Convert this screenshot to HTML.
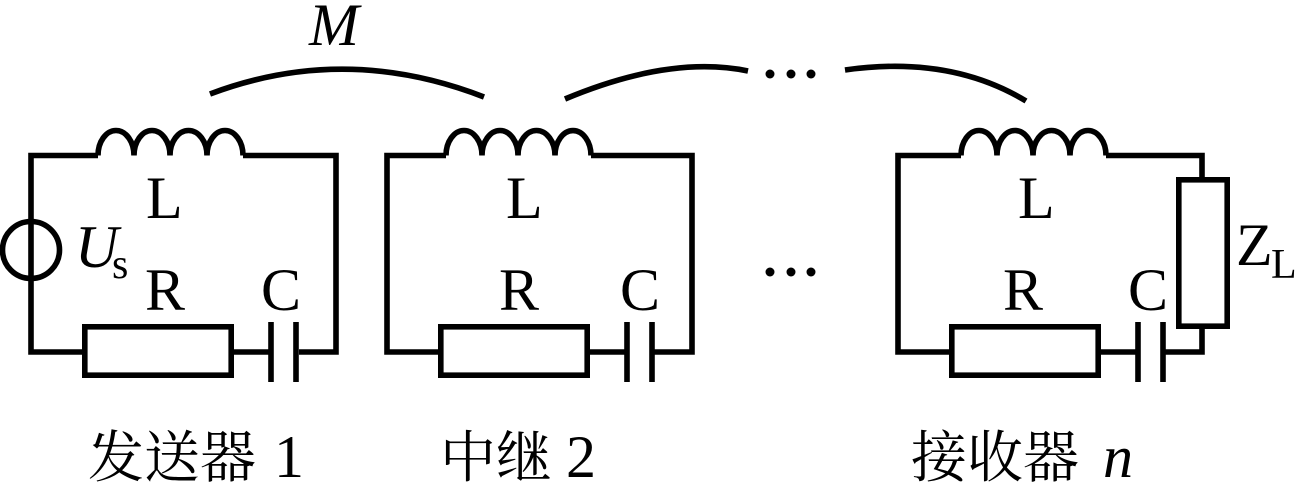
<!DOCTYPE html>
<html><head><meta charset="utf-8">
<style>
html,body{margin:0;padding:0;background:#fff;width:1311px;height:493px;overflow:hidden}
svg{display:block}
text{font-family:"Liberation Serif","Noto Serif CJK SC",serif;font-size:60px;fill:#000}
.i{font-style:italic}
.s{font-size:42px}
.z{font-size:56px}
.w{fill:none;stroke:#000;stroke-width:5.6}
</style></head><body>
<svg width="1311" height="493" viewBox="0 0 1311 493" xmlns="http://www.w3.org/2000/svg">
<g class="w">
<!-- arcs -->
<path d="M210 94Q345 43 484 97"/>
<path d="M565 99Q670 55 748 71"/>
<path d="M845 70Q950 55 1026 101"/>
<!-- circuit 1 -->
<path d="M98 155.500H31V352H85"/>
<path d="M243 155.500H336V352H299"/>
<path d="M98 155.500A18 25 0 0 1 134 155.500A18 25 0 0 1 170 155.500A18.500 25 0 0 1 207 155.500A18 25 0 0 1 243 155.500"/>
<circle cx="31" cy="250" r="28.500"/>
<rect x="84.800" y="326.800" width="146.400" height="48.400"/>
<path d="M231 352H271M271 322V382M296 322V382"/>
<!-- circuit 2 -->
<path d="M446 155.500H387V352H441"/>
<path d="M591 155.500H692V352H652"/>
<path d="M446 155.500A18 25 0 0 1 482 155.500A18 25 0 0 1 518 155.500A18.500 25 0 0 1 555 155.500A18 25 0 0 1 591 155.500"/>
<rect x="440.800" y="326.800" width="146.400" height="48.400"/>
<path d="M587 352H627M627 322V382M652 322V382"/>
<!-- circuit 3 -->
<path d="M961 155.500H898V352H952"/>
<path d="M1106 155.500H1202V179"/>
<path d="M961 155.500A18 25 0 0 1 997 155.500A18 25 0 0 1 1033 155.500A18.500 25 0 0 1 1070 155.500A18 25 0 0 1 1106 155.500"/>
<rect x="951.800" y="326.800" width="146.400" height="48.400"/>
<path d="M1098 352H1138M1138 322V382M1163 322V382M1163 352H1202V326"/>
<rect x="1178.800" y="179.800" width="48.400" height="146.400"/>
</g>
<!-- dots -->
<g fill="#000">
<circle cx="770" cy="74" r="4.500"/><circle cx="791" cy="74" r="4.500"/><circle cx="811" cy="74" r="4.500"/>
<circle cx="770" cy="272" r="4.500"/><circle cx="791" cy="272" r="4.500"/><circle cx="811" cy="272" r="4.500"/>
</g>
<!-- labels -->
<text class="i" x="309" y="45">M</text>
<text x="146" y="218">L</text><text x="506" y="218">L</text><text x="1018" y="218">L</text>
<text x="145" y="310">R</text><text x="499" y="310">R</text><text x="1003" y="310">R</text>
<text x="261" y="310">C</text><text x="620" y="310">C</text><text x="1128" y="310">C</text>
<text class="i" x="75" y="267">U</text><text class="s" x="112" y="278">s</text>
<text x="1236" y="265">Z</text><text class="s" x="1271" y="278">L</text>
<text class="z" x="88" y="477">发送器</text><text x="274" y="477">1</text>
<text class="z" x="440" y="477">中继</text><text x="566" y="477">2</text>
<text class="z" x="911" y="477">接收器</text><text class="i" x="1103" y="477">n</text>
</svg>
</body></html>
